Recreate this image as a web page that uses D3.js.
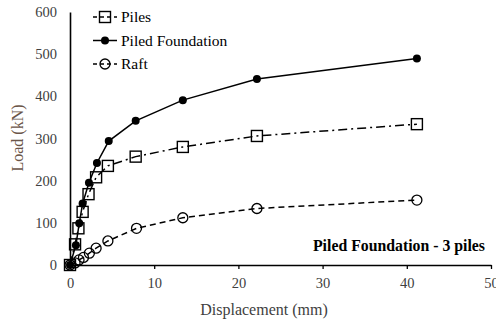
<!DOCTYPE html>
<html>
<head>
<meta charset="utf-8">
<script src="https://cdn.jsdelivr.net/npm/d3@7"></script>
<style>
  html, body { margin: 0; padding: 0; background: #fff; }
  svg { display: block; }
  svg text { font-family: "Liberation Serif", "DejaVu Serif", serif; }
</style>
</head>
<body>
<svg id="chart" width="496" height="323"></svg>
<script>
// Load–displacement curves, 3-pile piled foundation
const xTicks = [0, 10, 20, 30, 40, 50];
const yTicks = [0, 100, 200, 300, 400, 500, 600];

const pilesDisp = [0, 0.6, 1.0, 1.5, 2.2, 3.1, 4.5, 7.8, 13.4, 22.2, 41.2];
const pilesLoad = [0, 49, 87, 126, 168, 208, 235, 257, 280, 306, 334];

const piledDisp = [0, 0.7, 1.1, 1.5, 2.25, 3.2, 4.6, 7.8, 13.4, 22.2, 41.2];
const piledLoad = [0, 47, 99, 146, 195, 242, 294, 342, 391, 441, 490];

const raftDisp = [0, 0.6, 1.07, 1.6, 2.3, 3.1, 4.5, 7.9, 13.4, 22.2, 41.2];
const raftLoad = [0, 5, 12, 18, 28, 40, 57, 87, 112, 134, 154];

const seriesNames = ["Piles", "Piled Foundation", "Raft"];

const svg = d3.select("#chart");
const x = d3.scaleLinear().domain([0, 50]).range([70, 491]);
const y = d3.scaleLinear().domain([0, 600]).range([265, 12]);

const serif = "Liberation Serif, DejaVu Serif, serif";

// axes
const xAxis = svg.append("g").attr("transform", `translate(0,${y(0)})`)
  .call(d3.axisBottom(x).tickValues(xTicks).tickSize(4).tickPadding(9).tickSizeOuter(0));
const yAxis = svg.append("g").attr("transform", `translate(${x(0)},0)`)
  .call(d3.axisLeft(y).tickValues(yTicks).tickSize(0).tickPadding(13).tickSizeOuter(0));
[xAxis, yAxis].forEach(g => {
  g.attr("font-family", serif).attr("font-size", 14.5);
  g.select(".domain").attr("stroke", "#000").attr("stroke-width", 1.6);
  g.selectAll(".tick line").attr("stroke", "#000").attr("stroke-width", 1.3);
  g.selectAll(".tick text").attr("fill", "#404040");
});

svg.append("text").attr("x", 264).attr("y", 315).attr("text-anchor", "middle")
  .attr("fill", "#404040").attr("font-family", serif).attr("font-size", 16)
  .text("Displacement (mm)");
svg.append("text").attr("transform", "translate(23,138) rotate(-90)")
  .attr("text-anchor", "middle").attr("fill", "#6b5548")
  .attr("font-family", serif).attr("font-size", 16)
  .text("Load (kN)");

svg.append("text").attr("x", 485).attr("y", 251).attr("text-anchor", "end")
  .attr("fill", "#000").attr("font-family", serif).attr("font-size", 15.8)
  .attr("font-weight", "bold").text("Piled Foundation - 3 piles");

const series = [
  { name: seriesNames[0], xs: pilesDisp, ys: pilesLoad, dash: "9,4,2,4", marker: "square" },
  { name: seriesNames[1], xs: piledDisp, ys: piledLoad, dash: null, marker: "dot" },
  { name: seriesNames[2], xs: raftDisp, ys: raftLoad, dash: "6,4", marker: "circle" }
];

const line = d3.line().x(d => x(d[0])).y(d => y(d[1]));

function drawMarker(g, kind, cx, cy) {
  if (kind === "square") {
    g.append("rect").attr("x", cx - 5.5).attr("y", cy - 5.5).attr("width", 11).attr("height", 11)
      .attr("fill", "none").attr("stroke", "#000").attr("stroke-width", 1.4);
  } else if (kind === "dot") {
    g.append("circle").attr("cx", cx).attr("cy", cy).attr("r", 4).attr("fill", "#000");
  } else {
    g.append("circle").attr("cx", cx).attr("cy", cy).attr("r", 5)
      .attr("fill", "none").attr("stroke", "#000").attr("stroke-width", 1.3);
  }
}

// draw raft first, then piles, then piled foundation on top
[series[2], series[0], series[1]].forEach(s => {
  const pts = s.xs.map((v, i) => [v, s.ys[i]]);
  const g = svg.append("g");
  g.append("path").datum(pts).attr("d", line).attr("fill", "none")
    .attr("stroke", "#000").attr("stroke-width", 1.5)
    .attr("stroke-dasharray", s.dash);
  pts.forEach(p => drawMarker(g, s.marker, x(p[0]), y(p[1])));
});

// legend
const legend = svg.append("g");
series.forEach((s, i) => {
  const ly = 17 + i * 23.5;
  legend.append("line").attr("x1", 93).attr("x2", 117).attr("y1", ly).attr("y2", ly)
    .attr("stroke", "#000").attr("stroke-width", 1.5)
    .attr("stroke-dasharray", s.dash ? "4,3" : null);
  drawMarker(legend, s.marker, 105, ly);
  legend.append("text").attr("x", 121).attr("y", ly + 5)
    .attr("fill", "#000").attr("font-family", serif).attr("font-size", 15.5)
    .text(s.name);
});
</script>
</body>
</html>
